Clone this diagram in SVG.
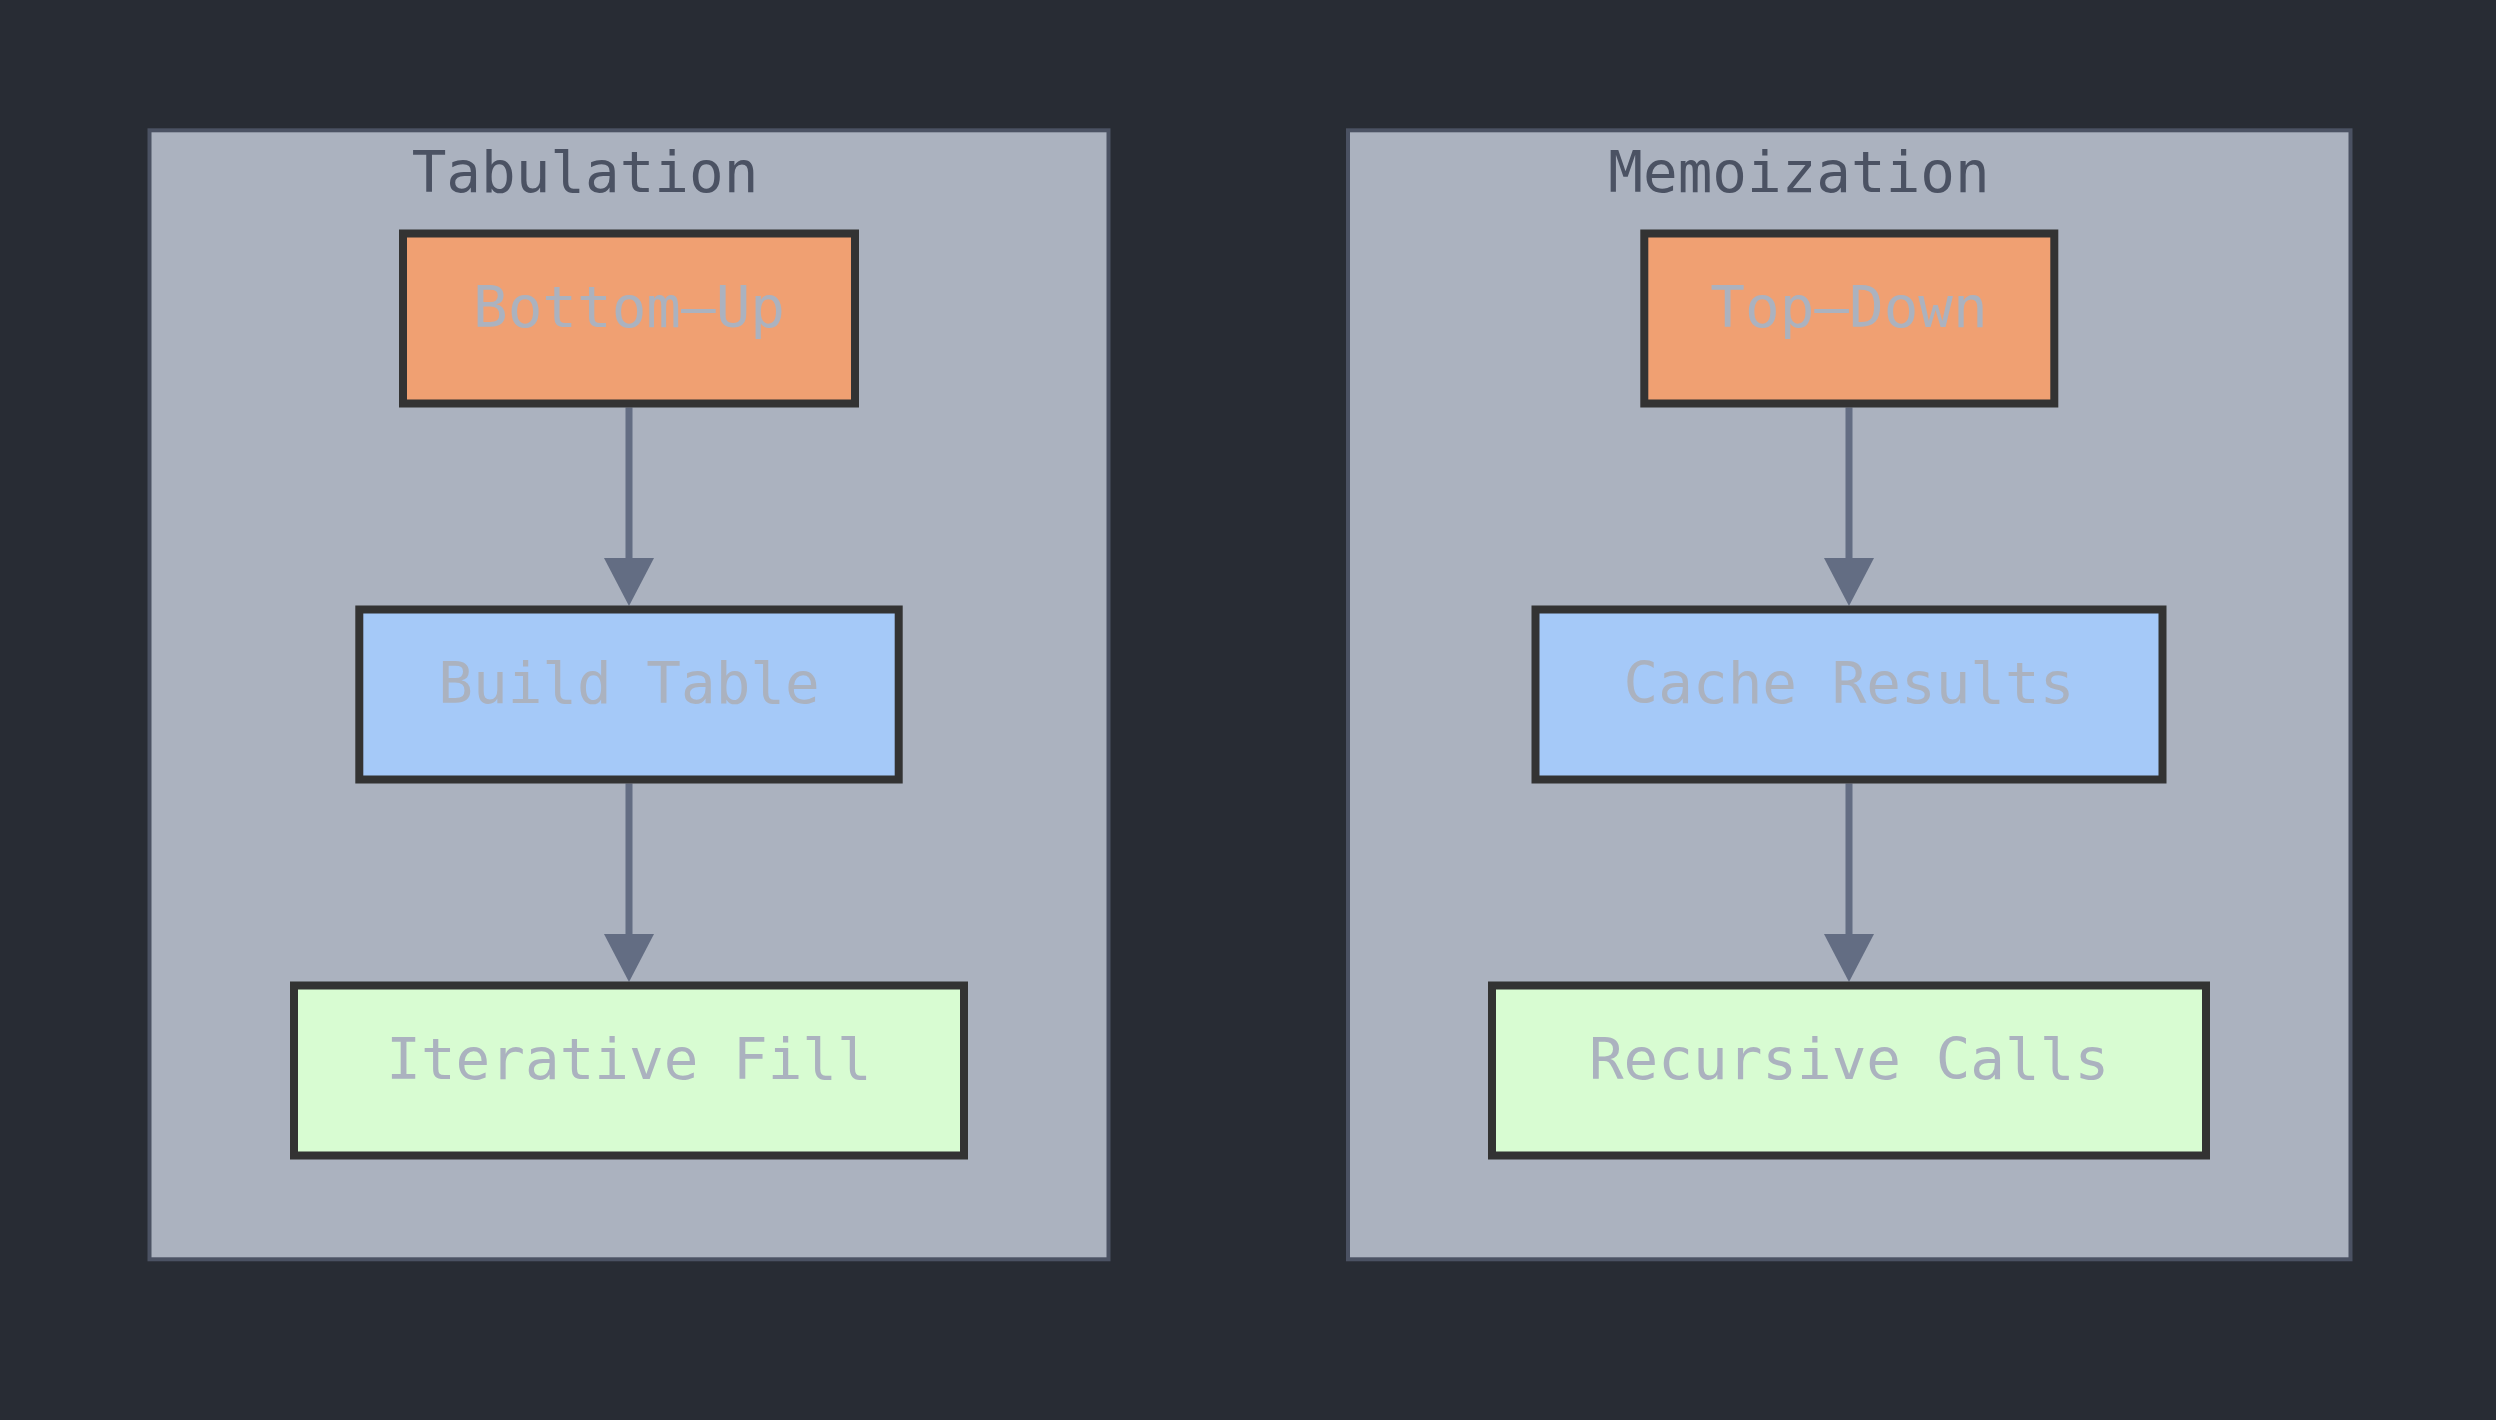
<svg xmlns="http://www.w3.org/2000/svg" width="2496" height="1420" viewBox="0 0 2496 1420">
<style>
.bg{fill:#282c34}
.cluster rect{fill:#abb2bf;stroke:#4b5263;stroke-width:4}
.cluster text{fill:#4b5263;font-family:"DejaVu Sans Mono","Liberation Mono",monospace;font-size:57.6px;text-anchor:middle}
.node rect{stroke:#333333;stroke-width:8}
.node text{fill:#abb2bf;font-family:"DejaVu Sans Mono","Liberation Mono",monospace;font-size:57.6px;text-anchor:middle}
.start rect{fill:#f0a072}
.mid rect{fill:#a5c9f8}
.end rect{fill:#d8fcd2}
.edge{stroke:#636d83;stroke-width:7;fill:none;marker-end:url(#arrow)}
</style>
<defs>
<marker id="arrow" viewBox="0 0 48 50" refX="0" refY="25" markerWidth="48" markerHeight="50" markerUnits="userSpaceOnUse" orient="auto">
<path d="M0,0 L48,25 L0,50 Z" fill="#636d83"/>
</marker>
</defs>
<rect class="bg" x="0" y="0" width="2496" height="1420"/>
<g id="cluster-tabulation" class="cluster">
<rect x="149.5" y="130.3" width="959" height="1129"/>
<text x="585" y="192.3">Tabulation</text>
</g>
<g id="cluster-memoization" class="cluster">
<rect x="1348" y="130.3" width="1002.5" height="1129"/>
<text x="1799" y="192.3">Memoization</text>
</g>
<g id="connectors">
<line class="edge" x1="629" y1="407.5" x2="629" y2="558"/>
<line class="edge" x1="629" y1="783.5" x2="629" y2="934"/>
<line class="edge" x1="1849" y1="407.5" x2="1849" y2="558"/>
<line class="edge" x1="1849" y1="783.5" x2="1849" y2="934"/>
</g>
<g id="node-bottom-up" class="node start">
<rect x="403" y="233.5" width="452" height="170"/>
<text x="629" y="326.7">Bottom–Up</text>
</g>
<g id="node-build-table" class="node mid">
<rect x="359.3" y="609.5" width="539.4" height="170"/>
<text x="629" y="702.7">Build Table</text>
</g>
<g id="node-iterative-fill" class="node end">
<rect x="294" y="985.5" width="670" height="170"/>
<text x="629" y="1078.7">Iterative Fill</text>
</g>
<g id="node-top-down" class="node start">
<rect x="1644.3" y="233.5" width="410" height="170"/>
<text x="1849" y="326.7">Top–Down</text>
</g>
<g id="node-cache-results" class="node mid">
<rect x="1535.5" y="609.5" width="627" height="170"/>
<text x="1849" y="702.7">Cache Results</text>
</g>
<g id="node-recursive-calls" class="node end">
<rect x="1492" y="985.5" width="714" height="170"/>
<text x="1849" y="1078.7">Recursive Calls</text>
</g>
</svg>
